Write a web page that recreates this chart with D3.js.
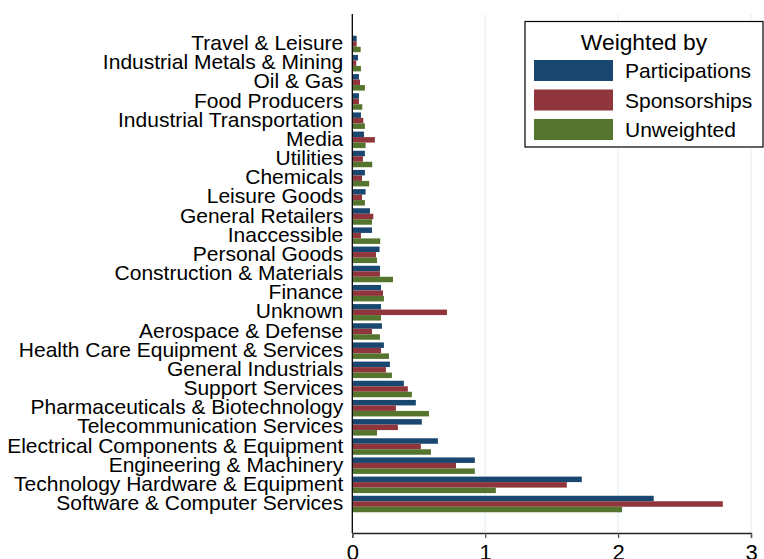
<!DOCTYPE html>
<html><head><meta charset="utf-8">
<script src="https://cdn.jsdelivr.net/npm/d3@7"></script>
<style>body{margin:0;background:#fff}svg{display:block;font-family:"Liberation Sans",Arial,sans-serif}</style>
</head><body><svg id="c" width="764" height="559"></svg>
<script>
const categories = ["Travel & Leisure","Industrial Metals & Mining","Oil & Gas","Food Producers","Industrial Transportation","Media","Utilities","Chemicals","Leisure Goods","General Retailers","Inaccessible","Personal Goods","Construction & Materials","Finance","Unknown","Aerospace & Defense","Health Care Equipment & Services","General Industrials","Support Services","Pharmaceuticals & Biotechnology","Telecommunication Services","Electrical Components & Equipment","Engineering & Machinery","Technology Hardware & Equipment","Software & Computer Services"];
const participations = [0.033,0.043,0.05,0.05,0.065,0.088,0.095,0.095,0.1,0.133,0.148,0.205,0.208,0.216,0.216,0.223,0.238,0.283,0.388,0.478,0.523,0.644,0.922,1.727,2.268];
const sponsorships = [0.033,0.03,0.058,0.05,0.083,0.17,0.08,0.073,0.073,0.158,0.065,0.178,0.208,0.231,0.712,0.148,0.216,0.253,0.418,0.328,0.343,0.516,0.78,1.614,2.788];
const unweighted = [0.063,0.065,0.095,0.075,0.095,0.1,0.15,0.127,0.095,0.148,0.21,0.186,0.306,0.238,0.216,0.208,0.276,0.298,0.448,0.577,0.186,0.592,0.922,1.08,2.03];
const seriesNames = ["Participations","Sponsorships","Unweighted"];
const seriesColors = ["#1a476f","#90353b","#55752f"];
const xTicks = [0,1,2,3];

const svg = d3.select("#c");
const x = d3.scaleLinear().domain([0,3]).range([352.3,751]);
const y = d3.scaleBand().domain(categories).range([34.4,513.6]).paddingInner(0.14).paddingOuter(0.07);
const sub = d3.scaleBand().domain(seriesNames).range([0,y.bandwidth()]);
const seriesData = [participations,sponsorships,unweighted];

// gridlines
svg.append("g").selectAll("line").data(xTicks.slice(1)).join("line")
  .attr("x1",d=>x(d)).attr("x2",d=>x(d)).attr("y1",14).attr("y2",533)
  .attr("stroke","#eaf2f3").attr("stroke-width",1.3);

// bars
seriesNames.forEach((s,si)=>{
  svg.append("g").selectAll("rect").data(categories).join("rect")
    .attr("x",x(0)).attr("y",d=>y(d)+sub(s))
    .attr("width",(d,i)=>x(seriesData[si][i])-x(0))
    .attr("height",sub.bandwidth())
    .attr("fill",seriesColors[si]);
});

// x axis
const xa = svg.append("g").attr("transform","translate(0,533)")
  .call(d3.axisBottom(x).tickValues(xTicks).tickFormat(d3.format("d")).tickSize(5).tickPadding(6));
xa.select(".domain").attr("stroke","#222").attr("stroke-width",1.3);
xa.selectAll(".tick line").attr("stroke","#555").attr("stroke-width",1.3);
xa.selectAll("text").attr("font-size",22).attr("fill","#000").attr("font-family","Liberation Sans, Arial, sans-serif");

// y axis
const ya = svg.append("g").attr("transform","translate(352.3,0)")
  .call(d3.axisLeft(y).tickSize(0).tickPadding(9));
ya.select(".domain").remove();
svg.append("line").attr("x1",352.3).attr("x2",352.3).attr("y1",14).attr("y2",533).attr("stroke","#000").attr("stroke-width",1.3);
ya.selectAll("text").attr("font-size",21).attr("fill","#000").attr("dy","0.29em").attr("font-family","Liberation Sans, Arial, sans-serif");

// legend
const lg = svg.append("g");
lg.append("rect").attr("x",525).attr("y",21.5).attr("width",238).attr("height",125.5)
  .attr("fill","#fff").attr("stroke","#000").attr("stroke-width",1.2);
lg.append("text").attr("x",644).attr("y",49.5).attr("text-anchor","middle").attr("font-size",22.8).text("Weighted by");
seriesNames.forEach((s,i)=>{
  const yy = 60 + i*29.5;
  lg.append("rect").attr("x",534).attr("y",yy).attr("width",79).attr("height",21).attr("fill",seriesColors[i]);
  lg.append("text").attr("x",625).attr("y",yy+18).attr("font-size",21).text(s);
});
</script></body></html>
